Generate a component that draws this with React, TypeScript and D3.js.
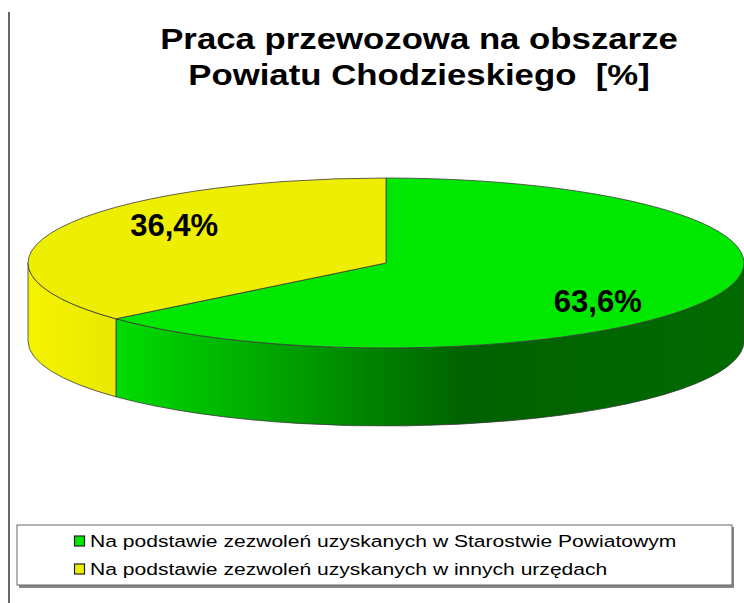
import React, { useRef, useEffect } from "react";
import * as d3 from "d3";

const categories = [
  "Na podstawie zezwoleń uzyskanych w Starostwie Powiatowym",
  "Na podstawie zezwoleń uzyskanych w innych urzędach",
];
const values = [63.6, 36.4];
const valueLabels = ["63,6%", "36,4%"];
const titleLines = ["Praca przewozowa na obszarze", "Powiatu Chodzieskiego  [%]"];

const topColors = ["#00e800", "#eeee00"];
const sideStops = [
  [
    ["0%", "#00dc00"],
    ["55%", "#006200"],
    ["100%", "#006a00"],
  ],
  [
    ["0%", "#f4f400"],
    ["100%", "#e8e800"],
  ],
];

const App = () => {
  const svgRef = useRef<SVGSVGElement>(null);

  useEffect(() => {
    const width = 744;
    const height = 603;
    const svg = d3.select(svgRef.current);
    svg.selectAll("*").remove();
    svg.attr("width", width).attr("height", height);

    const font = "'Liberation Sans', Arial, sans-serif";
    const cx = 386;
    const cy = 263;
    const rx = 358;
    const ry = 85;
    const depth = 78;

    // left frame line
    svg
      .append("line")
      .attr("x1", 9)
      .attr("x2", 9)
      .attr("y1", 12)
      .attr("y2", height)
      .attr("stroke", "#333")
      .attr("stroke-width", 1.5);

    // title (stretched horizontally like the original)
    const titleX = 419;
    const title = svg
      .append("text")
      .attr("text-anchor", "middle")
      .style("font-family", font)
      .style("font-weight", "bold")
      .style("font-size", "29px")
      .style("white-space", "pre");
    title
      .selectAll("tspan")
      .data(titleLines)
      .enter()
      .append("tspan")
      .attr("x", 0)
      .attr("y", (d, i) => 49 + i * 36)
      .text((d) => d);
    const t1 = (title.select("tspan").node() as SVGTSpanElement).getComputedTextLength();
    title.attr("transform", `translate(${titleX},0) scale(${518 / t1},1)`);

    const pie = d3
      .pie<number>()
      .sort(null)
      .value((d) => d)
      .startAngle(0)
      .endAngle(2 * Math.PI);
    const arcs = pie(values);

    const pt = (a: number) => [cx + rx * Math.sin(a), cy - ry * Math.cos(a)];

    const defs = svg.append("defs");
    sideStops.forEach((stops, i) => {
      const g = defs
        .append("linearGradient")
        .attr("id", "side" + i)
        .attr("gradientUnits", "userSpaceOnUse")
        .attr("x1", i === 0 ? 118 : cx - rx)
        .attr("x2", i === 0 ? cx + rx : 118)
        .attr("y1", 0)
        .attr("y2", 0);
      g.selectAll("stop")
        .data(stops)
        .enter()
        .append("stop")
        .attr("offset", (d) => d[0])
        .attr("stop-color", (d) => d[1]);
    });

    // sides (front half only)
    arcs.forEach((a, i) => {
      const s = Math.max(a.startAngle, Math.PI / 2);
      const e = Math.min(a.endAngle, (3 * Math.PI) / 2);
      if (e <= s) return;
      const p0 = pt(s);
      const p1 = pt(e);
      const large = e - s > Math.PI ? 1 : 0;
      const path =
        `M${p0[0]},${p0[1]} A${rx},${ry} 0 ${large} 1 ${p1[0]},${p1[1]}` +
        ` L${p1[0]},${p1[1] + depth} A${rx},${ry} 0 ${large} 0 ${p0[0]},${p0[1] + depth} Z`;
      svg
        .append("path")
        .attr("d", path)
        .attr("fill", `url(#side${i})`)
        .attr("stroke", "#3a3a3a")
        .attr("stroke-width", 0.8);
    });

    // tops
    arcs.forEach((a, i) => {
      const p0 = pt(a.startAngle);
      const p1 = pt(a.endAngle);
      const large = a.endAngle - a.startAngle > Math.PI ? 1 : 0;
      const path = `M${cx},${cy} L${p0[0]},${p0[1]} A${rx},${ry} 0 ${large} 1 ${p1[0]},${p1[1]} Z`;
      svg
        .append("path")
        .attr("d", path)
        .attr("fill", topColors[i])
        .attr("stroke", "#3a3a3a")
        .attr("stroke-width", 0.8);
    });

    // value labels
    arcs.forEach((a, i) => {
      const m = (a.startAngle + a.endAngle) / 2;
      svg
        .append("text")
        .attr("x", cx + 0.65 * rx * Math.sin(m))
        .attr("y", cy - 1.07 * ry * Math.cos(m))
        .attr("dy", "0.36em")
        .attr("text-anchor", "middle")
        .style("font-family", font)
        .style("font-weight", "bold")
        .style("font-size", "31px")
        .text(valueLabels[i]);
    });

    // legend
    const legend = svg.append("g");
    legend
      .append("rect")
      .attr("x", 19)
      .attr("y", 527)
      .attr("width", 715)
      .attr("height", 61)
      .attr("fill", "#888");
    legend
      .append("rect")
      .attr("x", 17)
      .attr("y", 525)
      .attr("width", 715)
      .attr("height", 60)
      .attr("fill", "#fff")
      .attr("stroke", "#666")
      .attr("stroke-width", 1);
    const item = legend
      .selectAll("g.item")
      .data(categories)
      .enter()
      .append("g")
      .attr("class", "item")
      .attr("transform", (d, i) => `translate(74, ${541 + i * 28})`);
    item
      .append("rect")
      .attr("x", 0.5)
      .attr("y", -5)
      .attr("width", 10)
      .attr("height", 10)
      .attr("fill", (d, i) => topColors[i])
      .attr("stroke", "#222")
      .attr("stroke-width", 1.2);
    const labels = item
      .append("text")
      .attr("y", 0)
      .attr("dy", "0.36em")
      .style("font-family", font)
      .style("font-size", "17px")
      .text((d) => d);
    const l1 = (labels.node() as SVGTextElement).getComputedTextLength();
    labels.attr("transform", `translate(16,0) scale(${587 / l1},1)`);
  }, []);

  return <svg ref={svgRef} style={{ position: "absolute", left: 0, top: 0 }}></svg>;
};

export default App;
